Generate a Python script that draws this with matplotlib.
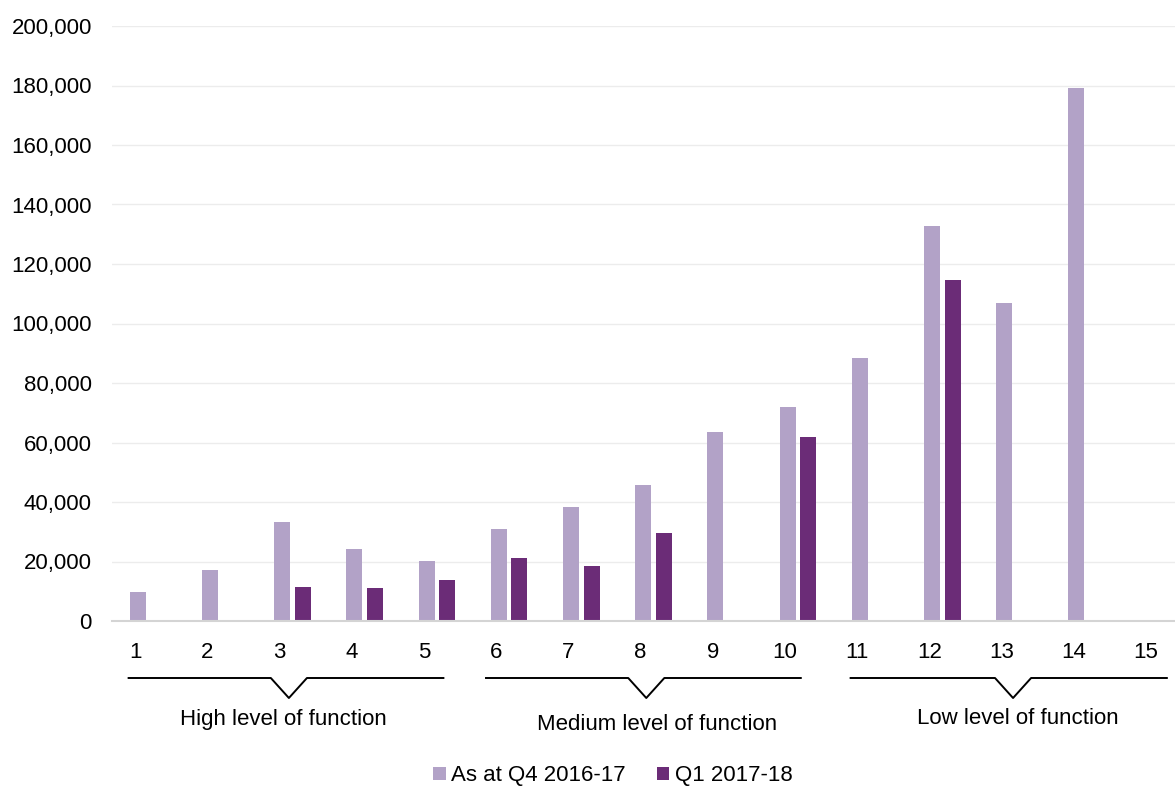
import matplotlib
matplotlib.use("Agg")
import matplotlib.pyplot as plt
import numpy as np
from matplotlib.patches import Patch
from matplotlib.transforms import ScaledTranslation, blended_transform_factory

categories = [str(i) for i in range(1, 16)]
q4_2016 = [9800, 17100, 33400, 24200, 20300, 30900, 38400, 45600, 63500, 71900,
           88400, 132800, 106900, 179200, 0]
q1_2017 = [0, 0, 11500, 11100, 13800, 21100, 18600, 29500, 0, 61800,
           0, 114600, 0, 0, 0]
series_names = ["As at Q4 2016-17", "Q1 2017-18"]
group_names = ["High level of function", "Medium level of function", "Low level of function"]
group_starts = [0, 5, 10]
y_ticks = list(range(0, 200001, 20000))

LIGHT = "#b2a2c7"
DARK = "#6b2c77"
plt.rcParams["font.family"] = ["Liberation Sans", "DejaVu Sans"]
FS = 16

W, H = 1175, 787
fig = plt.figure(figsize=(W / 100, H / 100), dpi=100)
ax = fig.add_axes([112 / W, 1 - 621 / H, 1083 / W, 595 / H])

x = np.arange(len(categories))
bw = 0.222
off = 0.142
for xi, v in zip(x, q4_2016):
    if v > 0:
        ax.bar(xi - off, v, width=bw, color=LIGHT, zorder=3)
for xi, v in zip(x, q1_2017):
    if v > 0:
        ax.bar(xi + off, v, width=bw, color=DARK, zorder=3)

ax.set_xlim(-0.5, len(categories) - 0.5)
ax.set_ylim(0, 200000)
ax.set_yticks(y_ticks)
ax.set_yticklabels([f"{t:,}" for t in y_ticks], fontsize=FS)
ax.yaxis.grid(True, color="#ececec", linewidth=1.0, zorder=0)
ax.set_axisbelow(True)
ax.tick_params(axis="y", length=0, pad=14.5)
ax.set_xticks(x)
ax.set_xticklabels(categories, fontsize=FS)
ax.tick_params(axis="x", length=0, pad=15)
shift = ScaledTranslation(-13 / 100, 0, fig.dpi_scale_trans)
for lbl in ax.get_xticklabels():
    lbl.set_transform(lbl.get_transform() + shift)
for s in ["top", "right", "left"]:
    ax.spines[s].set_visible(False)
ax.spines["bottom"].set_color("#d4d4d4")
ax.spines["bottom"].set_linewidth(1.5)
ax.spines["bottom"].set_zorder(4)

# group brackets
tr = blended_transform_factory(ax.transData, fig.transFigure)
y_line = 1 - 678 / H
y_tip = 1 - 698 / H
label_y = [719, 724, 719]
label_dx = [1.87, 2.05, 2.05]
bracket_left = [-0.27, -0.32, -0.27]
bracket_right = [4.09, 4.04, 4.11]
notch_c = [1.95, 1.9, 1.98]
for gs, name, ly, ldx, bl, br, nc in zip(group_starts, group_names, label_y, label_dx,
                                        bracket_left, bracket_right, notch_c):
    left, right = gs + bl, gs + br
    c = gs + nc
    xs = [left, c - 0.25, c, c + 0.25, right]
    ys = [y_line, y_line, y_tip, y_line, y_line]
    ax.plot(xs, ys, color="black", linewidth=1.4, transform=tr, clip_on=False)
    ax.text(gs + ldx, 1 - ly / H, name, fontsize=FS, ha="center", va="center",
            transform=tr)

handles = [Patch(facecolor=LIGHT, edgecolor="none"), Patch(facecolor=DARK, edgecolor="none")]
fig.legend(handles, series_names, loc="center", bbox_to_anchor=(613 / W, 1 - 776 / H),
           ncol=2, frameon=False, fontsize=FS, handlelength=0.55, handleheight=0.55,
           handletextpad=0.25, columnspacing=1.4, borderpad=0.1)

fig.savefig("out.png", dpi=100)
